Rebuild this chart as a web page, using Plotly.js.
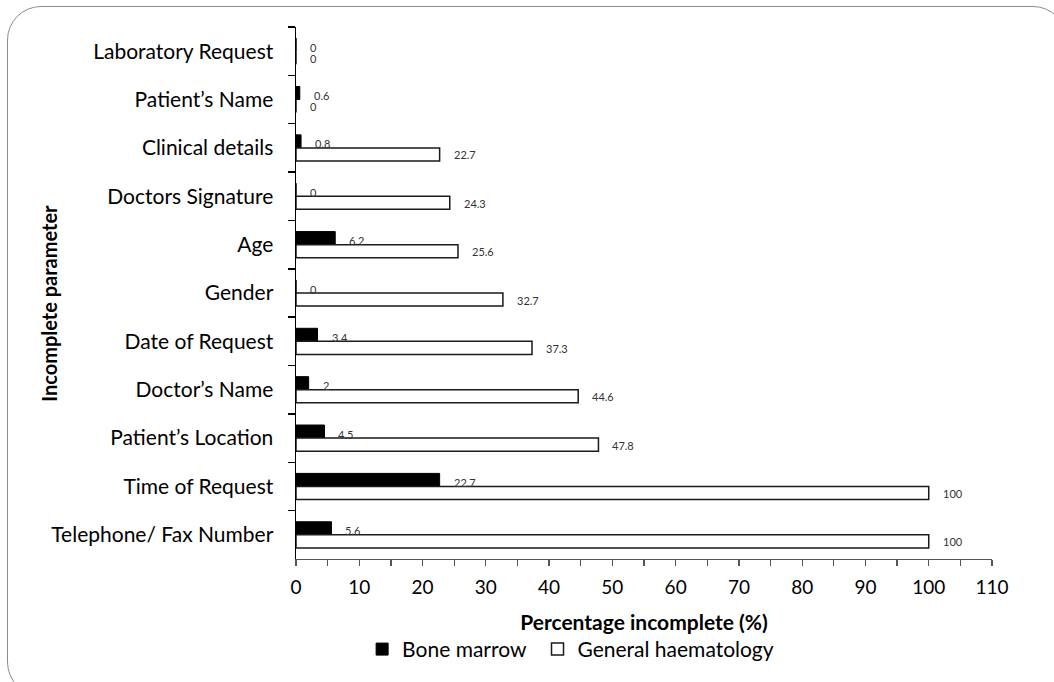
<!DOCTYPE html>
<html>
<head>
<meta charset="utf-8">
<script src="https://cdn.plot.ly/plotly-3.0.1.min.js"></script>
<style>
  html, body { margin: 0; padding: 0; background: #ffffff; overflow: hidden; }
  #frame { position: absolute; left: 7px; top: 6px; width: 1060px; height: 690px;
           border: 1.5px solid #8c8c8c; border-radius: 34px; box-sizing: border-box; }
  #chart { position: absolute; left: 0; top: 0; width: 1054px; height: 682px; }
</style>
</head>
<body>
<div id="frame"></div>
<div id="chart"></div>
<script>
// Categories (top to bottom)
const categories = [
  "Laboratory Request",
  "Patient\u2019s Name",
  "Clinical details",
  "Doctors Signature",
  "Age",
  "Gender",
  "Date of Request",
  "Doctor\u2019s Name",
  "Patient\u2019s Location",
  "Time of Request",
  "Telephone/ Fax Number"
];
const boneMarrow = [0, 0.6, 0.8, 0, 6.2, 0, 3.4, 2, 4.5, 22.7, 5.6];
const generalHaematology = [0, 0, 22.7, 24.3, 25.6, 32.7, 37.3, 44.6, 47.8, 100, 100];
const seriesNames = ["Bone marrow", "General haematology"];
const xTickValues = [0, 10, 20, 30, 40, 50, 60, 70, 80, 90, 100, 110];

const FONT = "Lato, 'Open Sans', sans-serif";

const traces = [
  {
    type: "bar", orientation: "h", name: seriesNames[0],
    y: categories, x: boneMarrow, legend: "legend",
    marker: { color: "#000000", line: { color: "#000000", width: 1 } },
    hoverinfo: "x+y"
  },
  {
    type: "bar", orientation: "h", name: seriesNames[1],
    y: categories, x: generalHaematology, legend: "legend2",
    marker: { color: "#ffffff", line: { color: "#1a1a1a", width: 1.5 } },
    hoverinfo: "x+y"
  }
];

const annotations = [];
categories.forEach((c, i) => {
  annotations.push({
    x: boneMarrow[i], y: c, xref: "x", yref: "y", text: String(boneMarrow[i]),
    showarrow: false, xanchor: "left", yanchor: "middle", xshift: 12, yshift: 4,
    font: { family: FONT, size: 11, color: "#333333" }
  });
  annotations.push({
    x: generalHaematology[i], y: c, xref: "x", yref: "y", text: String(generalHaematology[i]),
    showarrow: false, xanchor: "left", yanchor: "middle", xshift: 12, yshift: -7,
    font: { family: FONT, size: 11, color: "#333333" }
  });
});
// y-axis title placed beside the tick labels
annotations.push({
  xref: "paper", yref: "paper", x: -0.356, y: 0.48, xanchor: "center", yanchor: "middle",
  text: "<b>Incomplete parameter</b>", textangle: -90, showarrow: false,
  font: { family: FONT, size: 20, color: "#000000" }
});

const legendCommon = {
  orientation: "h", y: -0.17, xanchor: "left", yanchor: "middle",
  font: { family: FONT, size: 21, color: "#000000" },
  bgcolor: "rgba(0,0,0,0)"
};

const layout = {
  width: 1054, height: 682,
  margin: { l: 296, r: 62, t: 27, b: 123, pad: 0, autoexpand: false },
  paper_bgcolor: "rgba(0,0,0,0)",
  plot_bgcolor: "rgba(0,0,0,0)",
  font: { family: FONT, color: "#000000" },
  barmode: "group",
  bargap: 0.46,
  bargroupgap: 0,
  showlegend: true,
  legend: Object.assign({}, legendCommon, { x: 0.095 }),
  legend2: Object.assign({}, legendCommon, { x: 0.347 }),
  xaxis: {
    range: [0, 110], tickvals: xTickValues, ticktext: xTickValues.map(String),
    showgrid: false, zeroline: false, automargin: false,
    showline: true, linecolor: "#555555", linewidth: 1.3,
    ticks: "outside", ticklen: 6, tickwidth: 1.3, tickcolor: "#555555",
    minor: { dtick: 5, tick0: 0, ticks: "outside", ticklen: 6, tickwidth: 1.3, tickcolor: "#555555", showgrid: false },
    tickfont: { family: FONT, size: 19, color: "#000000" },
    ticklabelstandoff: 5,
    title: { text: "<b>Percentage incomplete (%)</b>", font: { family: FONT, size: 21, color: "#000000" }, standoff: 18 },
    fixedrange: true
  },
  yaxis: {
    type: "category", categoryorder: "array", categoryarray: categories,
    autorange: "reversed", automargin: false,
    showgrid: false, zeroline: false,
    showline: true, linecolor: "#000000", linewidth: 1.5,
    ticks: "outside", tickson: "boundaries", ticklen: 7, tickwidth: 1.5, tickcolor: "#000000",
    tickfont: { family: FONT, size: 21, color: "#000000" },
    ticklabelstandoff: 17,
    fixedrange: true
  },
  annotations: annotations
};

Plotly.newPlot("chart", traces, layout, { displayModeBar: false, staticPlot: true });
</script>
</body>
</html>
